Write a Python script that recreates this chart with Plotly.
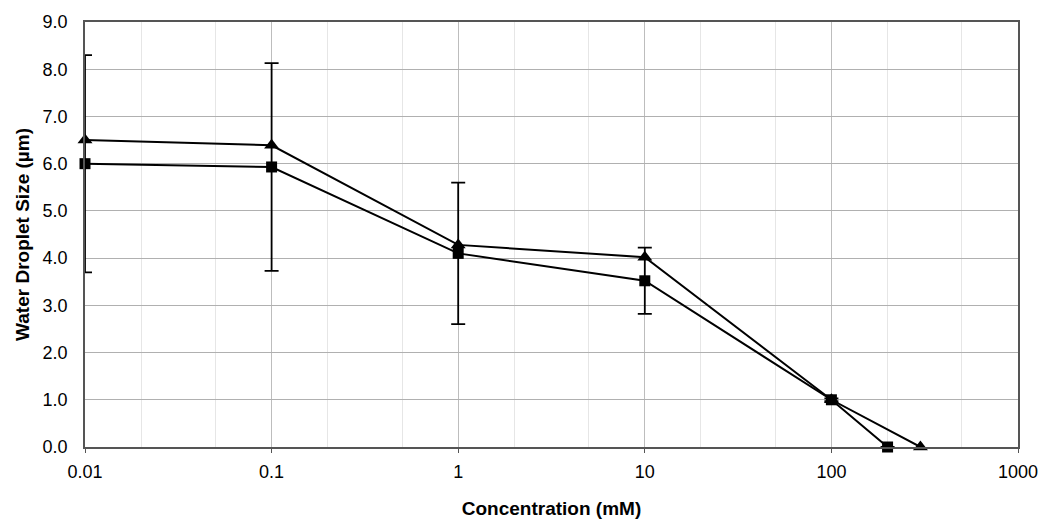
import plotly.graph_objects as go

conc_tri = [0.01, 0.1, 1, 10, 100, 300]
size_tri = [6.5, 6.39, 4.28, 4.02, 1.0, 0.0]

conc_sq = [0.01, 0.1, 1, 10, 100, 200]
size_sq = [6.0, 5.93, 4.1, 3.52, 1.0, 0.0]
err_sq = [2.3, 2.2, 1.5, 0.7, 0.03, 0.0]

x_tickvals = [0.01, 0.1, 1, 10, 100, 1000]
x_ticktext = ["0.01", "0.1", "1", "10", "100", "1000"]
y_tickvals = [0, 1, 2, 3, 4, 5, 6, 7, 8, 9]

fig = go.Figure()
fig.add_trace(go.Scatter(
    x=conc_sq, y=size_sq, mode="lines+markers",
    line=dict(color="black", width=2),
    marker=dict(symbol="square", size=11, color="black"),
    error_y=dict(type="data", array=err_sq, visible=True, color="black", thickness=1.8, width=7),
    showlegend=False, cliponaxis=False,
))
fig.add_trace(go.Scatter(
    x=conc_tri, y=size_tri, mode="lines+markers",
    line=dict(color="black", width=2),
    marker=dict(symbol="triangle-up", size=13, color="black"),
    showlegend=False, cliponaxis=False,
))

fig.update_layout(
    width=1050, height=528,
    margin=dict(l=85, r=32, t=16, b=81),
    plot_bgcolor="white", paper_bgcolor="white",
    font=dict(family="Liberation Sans, Arial, sans-serif", size=18, color="black"),
)
fig.update_xaxes(
    type="log", range=[-2, 3],
    tickvals=x_tickvals, ticktext=x_ticktext,
    showgrid=True, gridcolor="#bdbdbd", gridwidth=1,
    minor=dict(showgrid=True, gridcolor="#e6e6e6", gridwidth=1, ticks=""),
    ticks="outside", ticklen=4, tickcolor="#555555",
    ticklabelstandoff=4,
    showline=True, linecolor="#555555", linewidth=1.5, mirror=True,
    zeroline=False,
    title=dict(text="<b>Concentration (mM)</b>", font=dict(size=19), standoff=20),
    tickfont=dict(size=18),
)
fig.update_yaxes(
    range=[0, 9], tickvals=y_tickvals, tickformat=".1f",
    showgrid=True, gridcolor="#b0b0b0", gridwidth=1,
    ticks="", ticklabelstandoff=12,
    showline=True, linecolor="#555555", linewidth=1.5, mirror=True,
    zeroline=False,
    title=dict(text="<b>Water Droplet Size (µm)</b>", font=dict(size=19), standoff=8),
    tickfont=dict(size=18),
)

fig.write_html("out.html", config={"displayModeBar": False},
               post_script="document.body.style.margin='0';")
